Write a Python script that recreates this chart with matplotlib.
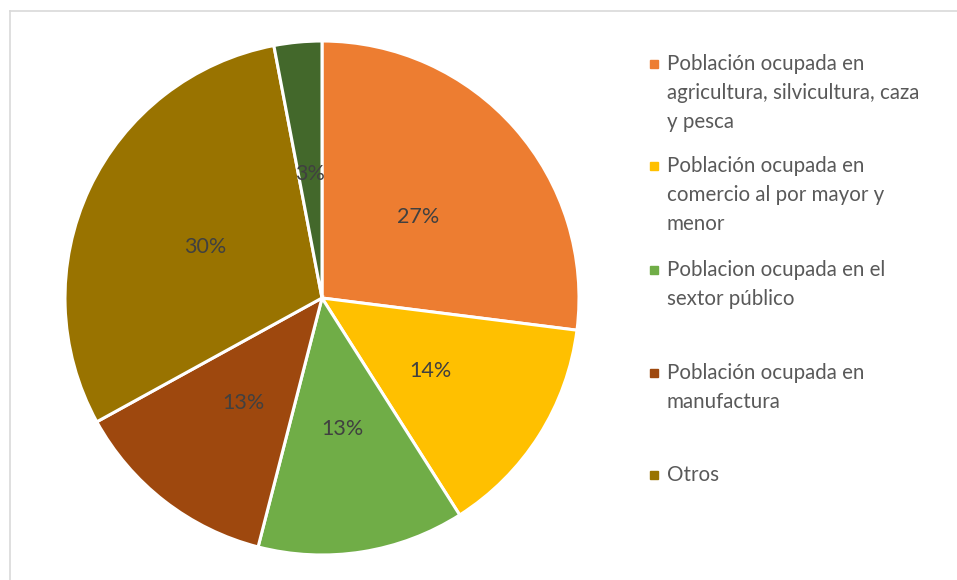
import matplotlib.pyplot as plt
from matplotlib.lines import Line2D

# ----------------------------------------------------
# Data
# ----------------------------------------------------

labels = [
    "Población ocupada en\nagricultura, silvicultura, caza\ny pesca",
    "Población ocupada en\ncomercio al por mayor y\nmenor",
    "Poblacion ocupada en el\nsextor público",
    "Población ocupada en\nmanufactura",
    "Otros",
    "",
]

shares = [27, 14, 13, 13, 30, 3]

colors = ["#ED7D31", "#FFC000", "#70AD47", "#9E480E", "#997300", "#43682B"]

# legend rows (centre of first text line, in figure pixels)
legend_y = [64, 166, 270, 373, 475]

plt.rcParams["font.family"] = ["Lato", "DejaVu Sans"]

W, H = 957, 580
fig = plt.figure(figsize=(W / 100, H / 100), dpi=100)

# ----------------------------------------------------
# Pie
# ----------------------------------------------------

cx, cy, r = 322, 298, 257
ax = fig.add_axes([(cx - r) / W, (H - cy - r) / H, 2 * r / W, 2 * r / H])

wedges, texts, autotexts = ax.pie(
    shares,
    colors=colors,
    startangle=90,
    counterclock=False,
    autopct="%1.0f%%",
    pctdistance=0.5,
    wedgeprops=dict(edgecolor="white", linewidth=2.2),
    textprops=dict(color="#404040", fontsize=15.5),
)
# nudge the percent labels down a little (font baseline difference)
for t in autotexts:
    x, y = t.get_position()
    t.set_position((x, y - 0.015))

ax.set_xlim(-1, 1)
ax.set_ylim(-1, 1)

# ----------------------------------------------------
# Legend (manual placement, text only for first five)
# ----------------------------------------------------

for label, color, y in zip(labels[:5], colors[:5], legend_y):
    fig.text(667 / W, 1 - (y - 10) / H, label, ha="left", va="top",
             fontsize=14.8, color="#595959", linespacing=1.56)
    fig.patches.append(plt.Rectangle(((650) / W, 1 - (y + 4) / H), 8 / W, 8 / H,
                                     transform=fig.transFigure, color=color))

# chart border (top and left only visible)
fig.add_artist(Line2D([10 / W, 10 / W], [0, 1 - 11 / H], color="#d9d9d9", lw=1.2))
fig.add_artist(Line2D([10 / W, 1], [1 - 11 / H, 1 - 11 / H], color="#d9d9d9", lw=1.2))

fig.savefig("out.png", dpi=100)
